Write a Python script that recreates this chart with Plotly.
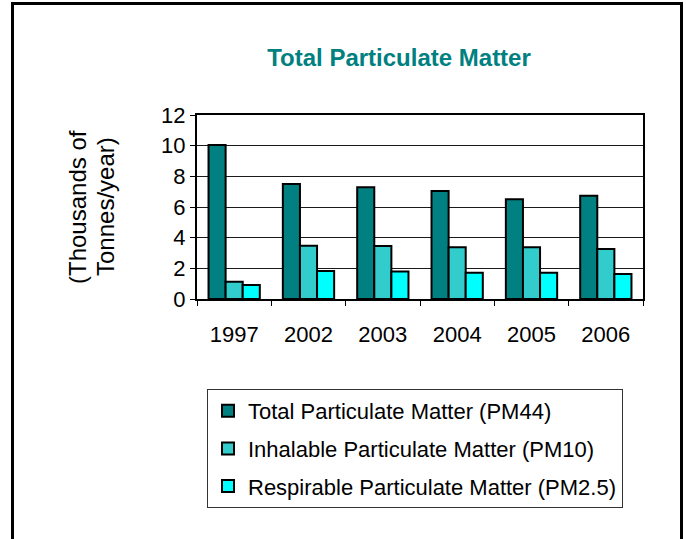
import plotly.graph_objects as go

years = ["1997", "2002", "2003", "2004", "2005", "2006"]
pm44 = [10.05, 7.5, 7.28, 7.04, 6.5, 6.74]
pm10 = [1.13, 3.48, 3.46, 3.37, 3.37, 3.26]
pm25 = [0.91, 1.83, 1.80, 1.72, 1.72, 1.63]

names = ["Total Particulate Matter (PM44)",
         "Inhalable Particulate Matter (PM10)",
         "Respirable Particulate Matter (PM2.5)"]
colors = ["#008080", "#33CCCC", "#00FFFF"]
ytitle_lines = ["(Thousands of", "Tonnes/year)"]

FONT = "Liberation Sans, Arial, sans-serif"

fig = go.Figure()
for i, (vals, name, col) in enumerate(zip([pm44, pm10, pm25], names, colors)):
    fig.add_trace(go.Bar(x=years, y=vals, name=name, legendgroup=f"g{i}",
                         marker=dict(color=col, line=dict(color="black", width=2))))

W, H = 686, 539
L, R, T, B = 197, 643, 115, 299
pw, ph = R - L, B - T

def px_x(x):
    return (x - L) / pw

def px_y(y):
    return (B - y) / ph

annotations = []
for txt, xc in zip(ytitle_lines, [77, 105]):
    annotations.append(dict(text=txt, textangle=-90, xref="paper", yref="paper",
                            x=px_x(xc), y=px_y(207), xanchor="center", yanchor="middle",
                            showarrow=False, font=dict(size=24, family=FONT, color="black")))

fig.update_layout(
    width=W, height=H,
    margin=dict(l=L, r=W - R, t=T, b=H - B, pad=0),
    paper_bgcolor="white", plot_bgcolor="white",
    font=dict(family=FONT, color="black"),
    barmode="group", bargap=0.31, bargroupgap=0.0,
    title=dict(text="<b>Total Particulate Matter</b>", x=399 / W, xref="container",
               xanchor="center", y=1 - 58 / H, yref="container", yanchor="middle",
               font=dict(size=24, color="#008080", family=FONT)),
    showlegend=True,
    legend=dict(x=px_x(207), y=px_y(389), xanchor="left", yanchor="top",
                bordercolor="#333333", borderwidth=1, bgcolor="white",
                font=dict(size=22, family=FONT), traceorder="grouped", tracegroupgap=6,
                itemwidth=30),
    xaxis=dict(showline=True, linecolor="black", linewidth=2, mirror=True,
               ticks="outside", tickson="boundaries", ticklen=5, tickcolor="black",
               tickfont=dict(size=22), ticklabelstandoff=15, showgrid=False),
    yaxis=dict(range=[0, 12], dtick=2, showline=True, linecolor="black", linewidth=2,
               mirror=True, ticks="outside", ticklen=5, tickcolor="black",
               tickfont=dict(size=22), showgrid=True, gridcolor="#1a1a1a", gridwidth=1),
    annotations=annotations,
    shapes=[dict(type="rect", xref="paper", yref="paper",
                 x0=px_x(12.5), x1=px_x(681.5), y0=px_y(600), y1=px_y(3.5),
                 line=dict(color="black", width=3), fillcolor="rgba(0,0,0,0)",
                 layer="above")],
)

fig.write_html("out.html", config={"displayModeBar": False},
               post_script="document.body.style.margin='0';document.body.style.overflow='hidden';")
